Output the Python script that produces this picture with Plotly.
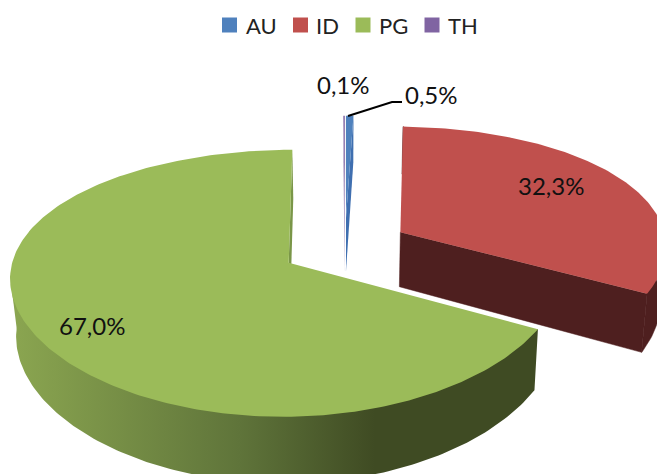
import math
import plotly.graph_objects as go

# Share of each country, in percent, clockwise from twelve o'clock
countries = ["AU", "ID", "PG", "TH"]
shares = [0.5, 32.3, 67.0, 0.1]
top_colors = ["#4F81BD", "#C0504D", "#9BBB59", "#8064A2"]
wall_colors = ["#3F6FB0", "#4E1F1F", "#7A9648", "#A594C0"]

# Value label anchor for each slice, in page pixels
label_positions = {"AU": (431, 94), "ID": (551, 185), "PG": (92, 325), "TH": (343, 84)}

# Key across the top of the page: swatch centre and text start, in page pixels
key_swatch_x = [229.5, 300.5, 363, 432]
key_text_x = [244, 314, 377, 446]
KEY_Y = 25

WIDTH, HEIGHT = 657, 474

# Projection of the tilted pie onto the page
CENTER_X, CENTER_Y = 345, 247
RADIUS_X, RADIUS_Y = 270, 125.6
PERSPECTIVE_Y, PERSPECTIVE_X, SKEW_X = 0.15, 0.10, 0.008
THICKNESS = 55.5
BOTTOM_SHRINK = 0.982
EXPLODE = 0.24
WALL_INSET = 0.97  # walls start just inside the top face so they never fringe it


def project(gx, gy, lower=False):
    """Ground coordinates (radius = 1) to page pixels, on the top or bottom rim."""
    px = CENTER_X + RADIUS_X * gx / (1 - PERSPECTIVE_X * gy + SKEW_X * gx)
    py = CENTER_Y + RADIUS_Y * gy / (1 - PERSPECTIVE_Y * gy)
    if lower:
        px = CENTER_X + (px - CENTER_X) * BOTTOM_SHRINK
        py += THICKNESS / (1 - PERSPECTIVE_Y * gy)
    return px, py


def rim_point(apex, angle, lower=False, radius=1.0):
    return project(apex[0] + radius * math.sin(angle), apex[1] - radius * math.cos(angle), lower)


def arc_angles(start, end, step=math.radians(1.0)):
    count = max(2, int((end - start) / step) + 1)
    return [start + (end - start) * i / (count - 1) for i in range(count)]


def polygon(points, color, line_width=0.0, **extra):
    return go.Scatter(
        x=[p[0] for p in points] + [points[0][0]],
        y=[p[1] for p in points] + [points[0][1]],
        mode="lines",
        fill="toself",
        fillcolor=color,
        line=dict(color=color, width=line_width),
        hoverinfo="skip",
        showlegend=False,
        **extra,
    )


def wall_outline(apex, arc):
    """Outer wall: the end corners sit on the rim, the rest slightly inside the top face."""
    upper = [rim_point(apex, arc[0])]
    upper += [rim_point(apex, a, radius=WALL_INSET) for a in arc[1:-1]]
    upper += [rim_point(apex, arc[-1])]
    return upper + [rim_point(apex, a, lower=True) for a in reversed(arc)]


total = sum(shares)
slices = {}
cumulative = 0.0
for name, share in zip(countries, shares):
    start = 2 * math.pi * cumulative / total
    end = 2 * math.pi * (cumulative + share) / total
    middle = (start + end) / 2
    apex = (EXPLODE * math.sin(middle), -EXPLODE * math.cos(middle))
    slices[name] = (start, end, apex)
    cumulative += share

fig = go.Figure()

# Small slices at the back: cut face plus top face
for name in ["TH", "AU"]:
    start, end, apex = slices[name]
    index = countries.index(name)
    far = start if name == "TH" else end
    fig.add_trace(polygon(
        [project(*apex), project(*apex, lower=True),
         rim_point(apex, far, lower=True), rim_point(apex, far)],
        wall_colors[index],
    ))
    fig.add_trace(polygon(
        [project(*apex)] + [rim_point(apex, a) for a in arc_angles(start, end)],
        top_colors[index],
    ))

# Indonesia slice: walls first, then the top face
start, end, apex = slices["ID"]
arc = arc_angles(start, end)
fig.add_trace(polygon(wall_outline(apex, arc), wall_colors[1], line_width=0.5))
fig.add_trace(polygon(
    [project(*apex), rim_point(apex, end), rim_point(apex, end, lower=True),
     project(*apex, lower=True)],
    wall_colors[1], line_width=0.5,
))
fig.add_trace(polygon(
    [project(*apex)] + [rim_point(apex, a) for a in arc],
    top_colors[1],
))

# Papua New Guinea slice: cut face, shaded outer wall, top face
start, end, apex = slices["PG"]
fig.add_trace(polygon(
    [project(*apex), rim_point(apex, end), rim_point(apex, end, lower=True),
     project(*apex, lower=True)],
    wall_colors[2],
))

# The top and bottom rims cross on the left; this patch gives the outline its tangent edge
fig.add_trace(polygon(
    [rim_point(apex, math.radians(285)), rim_point(apex, math.radians(264)),
     rim_point(apex, math.radians(252), lower=True), rim_point(apex, math.radians(285), lower=True)],
    "#8AA550",
))

wall = polygon(
    wall_outline(apex, arc_angles(start, math.radians(285))),
    "#3F4B23",
    fillgradient=dict(
        type="horizontal", start=15, stop=375,
        colorscale=[[0.0, "#8AA550"], [0.625, "#5F743A"], [1.0, "#3F4B23"]],
    ),
)
fig.add_trace(wall)
fig.add_trace(polygon(
    [project(*apex)] + [rim_point(apex, a) for a in arc_angles(start, end)],
    top_colors[2],
))

# Key swatches
for name, color, swatch_x in zip(countries, top_colors, key_swatch_x):
    fig.add_trace(go.Scatter(
        x=[swatch_x], y=[KEY_Y], mode="markers", name=name,
        marker=dict(symbol="square", size=15, color=color),
        hoverinfo="name", showlegend=False,
    ))

# Leader line from the AU slice to its label
fig.add_trace(go.Scatter(
    x=[348, 392, 402], y=[116, 102, 102], mode="lines",
    line=dict(color="black", width=2), hoverinfo="skip", showlegend=False,
))

annotations = [
    dict(
        x=label_positions[name][0], y=label_positions[name][1],
        xref="x", yref="y", showarrow=False,
        text=f"{share:.1f}%".replace(".", ","),
        font=dict(family="Lato", size=24, color="#111111"),
    )
    for name, share in zip(countries, shares)
] + [
    dict(
        x=text_x, y=KEY_Y, xref="x", yref="y", showarrow=False,
        xanchor="left", text=name,
        font=dict(family="Lato", size=22, color="#222222"),
    )
    for name, text_x in zip(countries, key_text_x)
]

fig.update_layout(
    width=WIDTH, height=HEIGHT,
    margin=dict(l=0, r=0, t=0, b=0),
    paper_bgcolor="white", plot_bgcolor="white",
    xaxis=dict(range=[0, WIDTH], visible=False, fixedrange=True),
    yaxis=dict(range=[HEIGHT, 0], visible=False, fixedrange=True),
    showlegend=False,
    annotations=annotations,
)

fig.write_html("out.html")
